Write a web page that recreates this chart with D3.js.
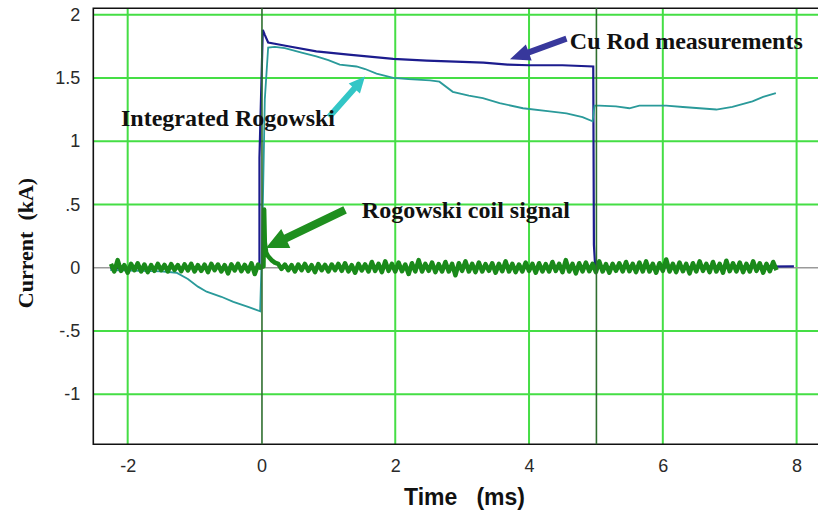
<!DOCTYPE html>
<html>
<head>
<meta charset="utf-8">
<script src="https://cdn.jsdelivr.net/npm/d3@7/dist/d3.min.js"></script>
<style>
  html, body { margin: 0; padding: 0; background: #ffffff; }
  svg { display: block; }
</style>
</head>
<body>
<svg id="chart" width="818" height="512"></svg>
<script>
// ---------------- DATA ----------------
const xTickValues = [-2, 0, 2, 4, 6, 8];
const xTickLabels = ["-2", "0", "2", "4", "6", "8"];
const yTickValues = [2, 1.5, 1, 0.5, 0, -0.5, -1];
const yTickLabels = ["2", "1.5", "1", ".5", "0", "-.5", "-1"];
const markerTimes = [0, 5];

// Cu Rod measurements (t in ms, current in kA)
const cuRodT = [-2.26, -0.03, -0.03, 0.02, 0.05, 0.1, 0.2, 0.4, 0.82, 1.3, 1.97, 2.47, 2.9, 3.32, 3.68, 4.0, 4.5, 4.96, 4.97, 4.99, 7.96];
const cuRodV = [-0.005, 0.0, 0.87, 1.88, 1.84, 1.78, 1.77, 1.75, 1.71, 1.684, 1.65, 1.636, 1.628, 1.62, 1.605, 1.60, 1.60, 1.59, 0.18, 0.0, 0.01];

// Integrated Rogowski
const intRogT = [-2.26, -1.8, -1.5, -1.27, -1.1, -0.95, -0.82, -0.6, -0.42, -0.2, -0.02, 0.01, 0.05, 0.1, 0.2, 0.35, 0.6, 0.82, 1.0, 1.17, 1.42, 1.55, 1.72, 1.97, 2.2, 2.52, 2.66, 2.86, 3.1, 3.31, 3.56, 3.91, 4.31, 4.56, 4.8, 4.95, 4.98, 5.05, 5.3, 5.5, 5.65, 6.05, 6.3, 6.55, 6.8, 7.04, 7.34, 7.5, 7.69];
const intRogV = [-0.02, -0.025, -0.03, -0.04, -0.09, -0.15, -0.19, -0.23, -0.27, -0.31, -0.345, 0.2, 1.33, 1.74, 1.745, 1.735, 1.70, 1.67, 1.64, 1.605, 1.59, 1.57, 1.534, 1.50, 1.49, 1.48, 1.47, 1.39, 1.36, 1.34, 1.30, 1.26, 1.236, 1.22, 1.19, 1.157, 1.28, 1.28, 1.275, 1.26, 1.28, 1.28, 1.27, 1.26, 1.25, 1.27, 1.315, 1.35, 1.38];

// Rogowski coil signal: sampled every 0.05 ms before and after the pulse
const coilPreStart = -2.25;
const coilPostStart = 0.25;
const coilStep = 0.05;
const coilPreV = [
  0.03,-0.03,0.06,-0.025,0.02,-0.04,0.03,-0.02,0.035,-0.03,
  0.025,-0.035,0.02,-0.025,0.03,-0.02,0.022,-0.03,0.028,-0.018,
  0.02,-0.028,0.026,-0.022,0.03,-0.03,0.02,-0.025,0.024,-0.035,
  0.03,-0.02,0.025,-0.03,0.02,-0.045,0.026,-0.022,0.03,-0.028,
  0.022,-0.03,0.035,-0.05,0.025
];
const coilSpikeT = [-0.02, 0.03, 0.04, 0.05, 0.07, 0.1, 0.15, 0.2];
const coilSpikeV = [0.0, 0.01, 0.46, 0.2, 0.12, 0.09, 0.06, 0.04];
const coilPostV = [
  0.03,-0.01,0.025,-0.02,0.02,-0.03,0.025,-0.02,0.03,-0.025,
  0.02,-0.035,0.028,-0.02,0.022,-0.03,0.025,-0.02,0.03,-0.025,
  0.035,-0.03,0.02,-0.04,0.03,-0.022,0.026,-0.03,0.045,-0.025,
  0.03,-0.035,0.05,-0.025,0.03,-0.03,0.04,-0.028,0.025,-0.05,
  0.035,-0.03,0.06,-0.03,0.03,-0.025,0.04,-0.035,0.028,-0.03,
  0.045,-0.03,0.03,-0.06,0.035,-0.025,0.05,-0.03,0.03,-0.035,
  0.04,-0.03,0.028,-0.025,0.035,-0.04,0.03,-0.028,0.05,-0.03,
  0.03,-0.035,0.025,-0.03,0.04,-0.025,0.03,-0.04,0.035,-0.03,
  0.028,-0.03,0.045,-0.025,0.03,-0.035,0.06,-0.03,0.03,-0.045,
  0.035,-0.03,0.04,-0.028,0.03,-0.035,0.05,-0.03,0.028,-0.04,
  0.03,-0.025,0.035,-0.03,0.045,-0.028,0.03,-0.035,0.04,-0.03,
  0.05,-0.03,0.03,-0.04,0.035,-0.025,0.065,-0.03,0.03,-0.035,
  0.04,-0.028,0.03,-0.045,0.035,-0.03,0.05,-0.025,0.03,-0.035,
  0.045,-0.03,0.03,-0.04,0.055,-0.028,0.035,-0.03,0.04,-0.035,
  0.03,-0.03,0.05,-0.025,0.035,-0.04,0.03,-0.028,0.045,-0.02
];

// Annotations: label text, label anchor (t, v), arrow tail & tip (t, v)
const annoLabels = ["Cu Rod measurements", "Integrated Rogowski", "Rogowski coil signal"];
const annoLabelT = [4.61, -2.1, 1.5];
const annoLabelV = [1.73, 1.12, 0.39];
const arrowTailT = [4.56, 1.01, 1.25];
const arrowTailV = [1.81, 1.19, 0.456];
const arrowTipT = [3.715, 1.547, 0.067];
const arrowTipV = [1.647, 1.51, 0.156];

// ---------------- STYLE / LAYOUT ----------------
const colors = {
  grid: "#45de45", marker: "#2f6f2f", zero: "#9a9a9a",
  cu: "#1c1c8e", integ: "#2a9a9a", coil: "#1a8a1a",
  arrows: ["#38389c", "#33c6c6", "#1f8f1f"]
};
const arrowShape = [ {shaft: 6, head: 20, width: 17}, {shaft: 6, head: 16, width: 15}, {shaft: 8, head: 22, width: 21} ];

const svg = d3.select("#chart");
const pLeft = 93.3, pRight = 818, pTop = 8.3, pBottom = 444.3;
const x = d3.scaleLinear().domain([-2.514, 8.32]).range([pLeft, pRight]);
const y = d3.scaleLinear().domain([-1.396, 2.05]).range([pBottom, pTop]);

svg.append("rect").attr("width", 818).attr("height", 512).attr("fill", "#ffffff");

// gridlines
const g = svg.append("g");
g.selectAll("line.vg").data(xTickValues.filter(v => !markerTimes.includes(v))).join("line")
  .attr("x1", d => x(d)).attr("x2", d => x(d)).attr("y1", pTop).attr("y2", pBottom)
  .attr("stroke", colors.grid).attr("stroke-width", 2);
g.selectAll("line.hg").data(yTickValues.filter(v => v !== 0)).join("line")
  .attr("x1", pLeft).attr("x2", pRight).attr("y1", d => y(d)).attr("y2", d => y(d))
  .attr("stroke", colors.grid).attr("stroke-width", 2);
g.append("line").attr("x1", pLeft).attr("x2", pRight).attr("y1", y(0)).attr("y2", y(0))
  .attr("stroke", colors.zero).attr("stroke-width", 1.5);

// frame (left, top, bottom)
svg.append("path")
  .attr("d", `M${pRight},${pTop}H${pLeft}V${pBottom}H${pRight}`)
  .attr("fill", "none").attr("stroke", "#111").attr("stroke-width", 1.6);

// axes
const yAxis = d3.axisLeft(y).tickValues(yTickValues)
  .tickFormat((d, i) => yTickLabels[i]).tickSize(0).tickPadding(13);
const ya = svg.append("g").attr("transform", `translate(${pLeft},0)`).call(yAxis);
ya.select(".domain").remove();
ya.selectAll("text").attr("font-family", "Liberation Sans, Arial, sans-serif")
  .attr("font-size", 18).attr("fill", "#2a2a2a");

const xAxis = d3.axisBottom(x).tickValues(xTickValues)
  .tickFormat((d, i) => xTickLabels[i]).tickSize(0).tickPadding(15);
const xa = svg.append("g").attr("transform", `translate(0,${pBottom})`).call(xAxis);
xa.select(".domain").remove();
xa.selectAll("text").attr("font-family", "Liberation Sans, Arial, sans-serif")
  .attr("font-size", 18).attr("fill", "#2a2a2a");

// data lines
const line = d3.line().x(d => x(d[0])).y(d => y(d[1]));
const cuData = cuRodT.map((t, i) => [t, cuRodV[i]]);
const integData = intRogT.map((t, i) => [t, intRogV[i]]);
const coilData = []
  .concat(coilPreV.map((v, i) => [coilPreStart + i * coilStep, v]))
  .concat(coilSpikeT.map((t, i) => [t, coilSpikeV[i]]))
  .concat(coilPostV.map((v, i) => [coilPostStart + i * coilStep, v]));

svg.append("path").datum(cuData).attr("d", line)
  .attr("fill", "none").attr("stroke", colors.cu).attr("stroke-width", 2.2);
svg.append("path").datum(integData).attr("d", line)
  .attr("fill", "none").attr("stroke", colors.integ).attr("stroke-width", 1.8);
svg.append("path").datum(coilData).attr("d", line)
  .attr("fill", "none").attr("stroke", colors.coil).attr("stroke-width", 4.5)
  .attr("stroke-linejoin", "round");

// marker lines at t = 0 and t = 5
svg.selectAll("line.mk").data(markerTimes).join("line")
  .attr("x1", d => x(d) + 0.5).attr("x2", d => x(d) + 0.5).attr("y1", pTop).attr("y2", pBottom)
  .attr("stroke", colors.marker).attr("stroke-width", 1.6);

// arrows and labels
annoLabels.forEach((lab, i) => {
  const x0 = x(arrowTailT[i]), y0 = y(arrowTailV[i]);
  const x1 = x(arrowTipT[i]), y1 = y(arrowTipV[i]);
  const dx = x1 - x0, dy = y1 - y0, len = Math.hypot(dx, dy);
  const ux = dx / len, uy = dy / len, px = -uy, py = ux;
  const s = arrowShape[i];
  const bx = x1 - ux * s.head, by = y1 - uy * s.head;
  const pts = [
    [x0 + px * s.shaft / 2, y0 + py * s.shaft / 2],
    [bx + px * s.shaft / 2, by + py * s.shaft / 2],
    [bx + px * s.width / 2, by + py * s.width / 2],
    [x1, y1],
    [bx - px * s.width / 2, by - py * s.width / 2],
    [bx - px * s.shaft / 2, by - py * s.shaft / 2],
    [x0 - px * s.shaft / 2, y0 - py * s.shaft / 2]
  ];
  svg.append("path").attr("d", "M" + pts.map(p => p.join(",")).join("L") + "Z")
    .attr("fill", colors.arrows[i]);
  svg.append("text").attr("x", x(annoLabelT[i])).attr("y", y(annoLabelV[i]))
    .attr("font-family", "Liberation Serif, Times New Roman, serif")
    .attr("font-weight", "bold").attr("font-size", 24).attr("fill", "#111")
    .text(lab);
});

// axis titles
svg.append("text").attr("x", 404).attr("y", 505)
  .attr("font-family", "Liberation Sans, Arial, sans-serif")
  .attr("font-weight", "bold").attr("font-size", 23).attr("fill", "#111")
  .style("white-space", "pre")
  .text("Time   (ms)");
svg.append("text").attr("transform", "translate(33,243) rotate(-90)")
  .attr("text-anchor", "middle")
  .attr("font-family", "Liberation Serif, Times New Roman, serif")
  .attr("font-weight", "bold").attr("font-size", 22).attr("fill", "#111")
  .style("white-space", "pre")
  .text("Current  (kA)");
</script>
</body>
</html>
